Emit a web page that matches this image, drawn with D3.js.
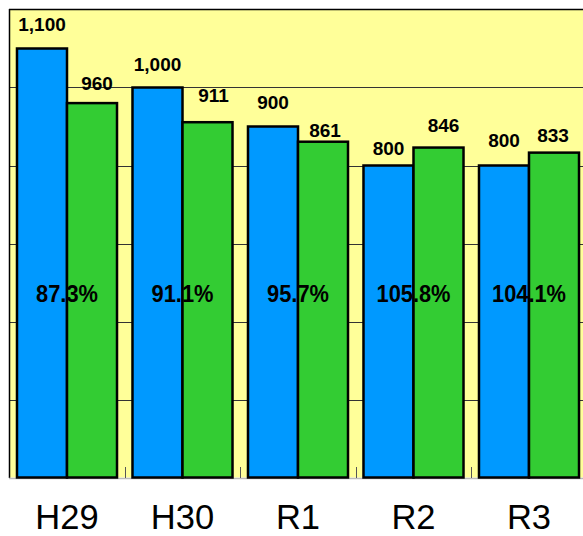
<!DOCTYPE html>
<html><head><meta charset="utf-8">
<script src="https://cdn.jsdelivr.net/npm/d3@7"></script>
<style>html,body{margin:0;padding:0;background:#fff;}svg{display:block;}</style>
</head><body>
<svg id="chart" width="583" height="536"></svg>
<script>
const categories = ["H29", "H30", "R1", "R2", "R3"];
const seriesA = [1100, 1000, 900, 800, 800];   // blue
const seriesB = [960, 911, 861, 846, 833];     // green
const ratioLabels = ["87.3%", "91.1%", "95.7%", "105.8%", "104.1%"];
const valueLabelsA = ["1,100", "1,000", "900", "800", "800"];
const valueLabelsB = ["960", "911", "861", "846", "833"];
const yTicks = [0, 200, 400, 600, 800, 1000, 1200];

// label nudges (px) to mimic manually placed labels
const gapA = [18, 17, 18, 11, 19];
const gapB = [13, 20, 5, 16, 11];
const dxB = [5, 6, 2, 5, -1];

const svg = d3.select("#chart");
const x = d3.scaleBand().domain(categories).range([9.25, 586.75]).paddingInner(0.134).paddingOuter(0.067);
const y = d3.scaleLinear().domain([0, 1200]).range([477.5, 9.5]);
const inner = d3.scaleBand().domain(["a", "b"]).range([0, x.bandwidth()]);

// plot background
svg.append("rect").attr("x", 9.25).attr("y", y(1200)).attr("width", 600).attr("height", y(0) - y(1200)).attr("fill", "#FFFF99");

// gridlines
svg.append("g").selectAll("line").data(yTicks.filter(d => d > 0 && d < 1200)).join("line")
  .attr("x1", 9.25).attr("x2", 600).attr("y1", d => Math.round(y(d)) + 0.5).attr("y2", d => Math.round(y(d)) + 0.5)
  .attr("stroke", "#333").attr("stroke-width", 1);

// top & left border
svg.append("line").attr("x1", 9).attr("x2", 600).attr("y1", 9.5).attr("y2", 9.5).attr("stroke", "#000").attr("stroke-width", 1.5);
svg.append("line").attr("x1", 9.5).attr("x2", 9.5).attr("y1", 9).attr("y2", 478).attr("stroke", "#000").attr("stroke-width", 1.5);

// bottom axis line (light gray) and ticks between categories
svg.append("line").attr("x1", 9).attr("x2", 600).attr("y1", 478.5).attr("y2", 478.5).attr("stroke", "#bbb").attr("stroke-width", 1.5);
const tickXs = categories.slice(1).map(c => x(c) - x.step() * x.paddingInner() / 2);
svg.append("g").selectAll("line").data(tickXs).join("line")
  .attr("x1", d => Math.round(d) + 0.5).attr("x2", d => Math.round(d) + 0.5)
  .attr("y1", 467).attr("y2", 478).attr("stroke", "#555").attr("stroke-width", 1);

// bars
const g = svg.append("g");
categories.forEach((c, i) => {
  [["a", seriesA[i], "#0099FF"], ["b", seriesB[i], "#33CC33"]].forEach(([k, v, col]) => {
    g.append("rect")
      .attr("x", x(c) + inner(k)).attr("y", y(v))
      .attr("width", inner.bandwidth()).attr("height", y(0) - y(v))
      .attr("fill", col).attr("stroke", "#000").attr("stroke-width", 2.5);
  });
});

// value labels
const lab = svg.append("g").attr("font-family", "'Liberation Sans', Arial, sans-serif").attr("font-weight", "bold").attr("font-size", 19).attr("text-anchor", "middle").attr("fill", "#000");
categories.forEach((c, i) => {
  lab.append("text").attr("x", x(c) + inner("a") + inner.bandwidth() / 2).attr("y", y(seriesA[i]) - gapA[i]).text(valueLabelsA[i]);
  lab.append("text").attr("x", x(c) + inner("b") + inner.bandwidth() / 2 + dxB[i]).attr("y", y(seriesB[i]) - gapB[i]).text(valueLabelsB[i]);
});

// ratio labels
const pg = svg.append("g").attr("font-family", "'Liberation Sans', Arial, sans-serif").attr("font-weight", "bold").attr("font-size", 24).attr("text-anchor", "middle").attr("fill", "#000");
categories.forEach((c, i) => {
  pg.append("text").attr("transform", `translate(${x(c) + x.bandwidth() / 2},302) scale(0.91,1)`).text(ratioLabels[i]);
});

// category labels
svg.append("g").attr("font-family", "'Liberation Sans', Arial, sans-serif").attr("font-size", 34.5).attr("text-anchor", "middle").attr("fill", "#000")
  .selectAll("text").data(categories).join("text")
  .attr("x", d => x(d) + x.bandwidth() / 2).attr("y", 528.5).text(d => d);
</script>
</body></html>
